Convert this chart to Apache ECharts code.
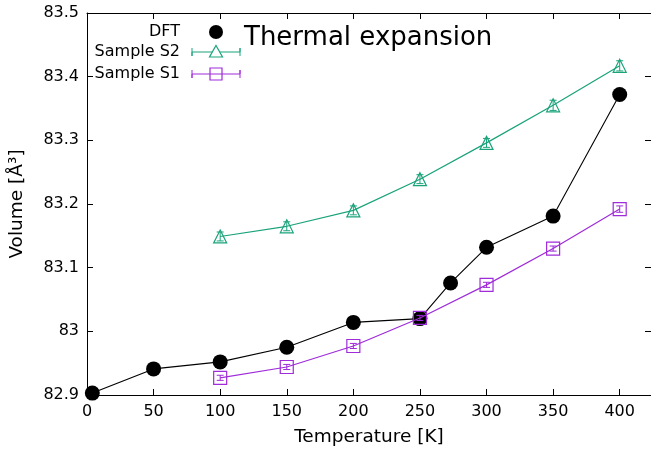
<!DOCTYPE html>
<html>
<head>
<meta charset="utf-8">
<script src="https://cdn.jsdelivr.net/npm/echarts@6/dist/echarts.min.js"></script>
<style>
html,body{margin:0;padding:0;background:#fff;}
#main{width:651px;height:454px;}
</style>
</head>
<body>
<div id="main"></div>
<script>
// temperature / volume data
var dftT = [4, 50, 100, 150, 200, 250, 273, 300, 350, 400];
var dftV = [82.903, 82.941, 82.952, 82.975, 83.014, 83.020, 83.076, 83.132, 83.181, 83.372];

var s2T = [100, 150, 200, 250, 300, 350, 400];
var s2V = [83.149, 83.165, 83.190, 83.239, 83.296, 83.355, 83.417];
var s2Err = [0.007, 0.007, 0.007, 0.007, 0.007, 0.008, 0.008];

var s1T = [100, 150, 200, 250, 300, 350, 400];
var s1V = [82.927, 82.944, 82.977, 83.021, 83.073, 83.130, 83.192];
var s1Err = [0.004, 0.004, 0.004, 0.004, 0.004, 0.004, 0.005];

var green = '#1aa37a';
var purple = '#9f2bd9';
var font = 'DejaVu Sans';

function pairs(xs, ys){
	var out = [];
	for (var i = 0; i < xs.length; i++) out.push([xs[i], ys[i]]);
	return out;
}
function errs(xs, ys, es){
	var out = [];
	for (var i = 0; i < xs.length; i++) out.push([xs[i], ys[i] - es[i], ys[i] + es[i]]);
	return out;
}
// vertical error bar with small caps
function errBar(color){
	return function(params, api){
		var lo = api.coord([api.value(0), api.value(1)]);
		var hi = api.coord([api.value(0), api.value(2)]);
		var w = 3.5;
		var st = {stroke: color, lineWidth: 1};
		return {type: 'group', children: [
			{type: 'line', shape: {x1: lo[0], y1: lo[1], x2: hi[0], y2: hi[1]}, style: st},
			{type: 'line', shape: {x1: lo[0]-w, y1: lo[1], x2: lo[0]+w, y2: lo[1]}, style: st},
			{type: 'line', shape: {x1: hi[0]-w, y1: hi[1], x2: hi[0]+w, y2: hi[1]}, style: st}
		]};
	};
}

var axisCommon = {
	axisLine: {show: true, onZero: false, lineStyle: {color: '#000', width: 1}},
	axisTick: {show: true, inside: true, length: 6, lineStyle: {color: '#000', width: 1}},
	splitLine: {show: false}
};

var option = {
	animation: false,
	grid: {left: 84, right: -1, top: 13, bottom: 59},
	xAxis: [
		Object.assign({
			type: 'value', min: 0, max: 423.5, interval: 50,
			name: 'Temperature [K]', nameLocation: 'middle', nameGap: 33,
			nameTextStyle: {fontFamily: font, fontSize: 18.5, color: '#000'},
			axisLabel: {fontFamily: font, fontSize: 16, color: '#000', margin: 9, showMaxLabel: false}
		}, axisCommon),
		Object.assign({
			type: 'value', min: 0, max: 423.5, interval: 50, position: 'top',
			axisLabel: {show: false}
		}, axisCommon)
	],
	yAxis: [
		Object.assign({
			type: 'value', min: 82.9, max: 83.5, interval: 0.1,
			name: 'Volume [Å³]', nameLocation: 'middle', nameGap: 60,
			nameTextStyle: {fontFamily: font, fontSize: 18.5, color: '#000'},
			axisLabel: {fontFamily: font, fontSize: 16, color: '#000', margin: 8}
		}, axisCommon),
		Object.assign({
			type: 'value', min: 82.9, max: 83.5, interval: 0.1, position: 'right',
			axisLabel: {show: false}
		}, axisCommon)
	],
	graphic: [
		{type: 'text', left: 244, top: 25, style: {text: 'Thermal expansion', font: '26px ' + font, fill: '#000'}},
		{type: 'text', x: 180, y: 32, style: {text: 'DFT', font: '16px ' + font, fill: '#000', align: 'right', verticalAlign: 'middle'}},
		{type: 'circle', shape: {cx: 216, cy: 32, r: 7}, style: {fill: '#000'}},
		{type: 'text', x: 180, y: 52, style: {text: 'Sample S2', font: '16px ' + font, fill: '#000', align: 'right', verticalAlign: 'middle'}},
		{type: 'polyline', shape: {points: [[192, 48], [192, 56], [192, 52], [240, 52], [240, 48], [240, 56]]}, style: {stroke: green, lineWidth: 1, fill: null}},
		{type: 'polygon', shape: {points: [[216, 45.5], [222.5, 57], [209.5, 57]]}, style: {stroke: green, lineWidth: 1.2, fill: '#fff'}},
		{type: 'text', x: 180, y: 74, style: {text: 'Sample S1', font: '16px ' + font, fill: '#000', align: 'right', verticalAlign: 'middle'}},
		{type: 'polyline', shape: {points: [[192, 70], [192, 78], [192, 74], [240, 74], [240, 70], [240, 78]]}, style: {stroke: purple, lineWidth: 1, fill: null}},
		{type: 'rect', shape: {x: 210, y: 68, width: 12, height: 12}, style: {stroke: purple, lineWidth: 1.2, fill: '#fff'}},
		{type: 'line', shape: {x1: 210, y1: 74, x2: 222, y2: 74}, style: {stroke: purple, lineWidth: 1}}
	],
	series: [
		{
			name: 'DFT', type: 'line', data: pairs(dftT, dftV),
			symbol: 'circle', symbolSize: 15,
			lineStyle: {color: '#000', width: 1.1}, itemStyle: {color: '#000'}, z: 1
		},
		{
			name: 'Sample S2', type: 'line', data: pairs(s2T, s2V),
			symbol: 'triangle', symbolSize: 13,
			lineStyle: {color: green, width: 1.2},
			itemStyle: {color: 'rgba(0,0,0,0)', borderColor: green, borderWidth: 1.2}, z: 2
		},
		{
			type: 'custom', renderItem: errBar(green), data: errs(s2T, s2V, s2Err), z: 3
		},
		{
			name: 'Sample S1', type: 'line', data: pairs(s1T, s1V),
			symbol: 'rect', symbolSize: 13,
			lineStyle: {color: purple, width: 1.2},
			itemStyle: {color: 'rgba(0,0,0,0)', borderColor: purple, borderWidth: 1.2}, z: 2
		},
		{
			type: 'custom', renderItem: errBar(purple), data: errs(s1T, s1V, s1Err), z: 3
		}
	]
};

var myChart = echarts.init(document.getElementById('main'));
myChart.setOption(option);
</script>
</body>
</html>
